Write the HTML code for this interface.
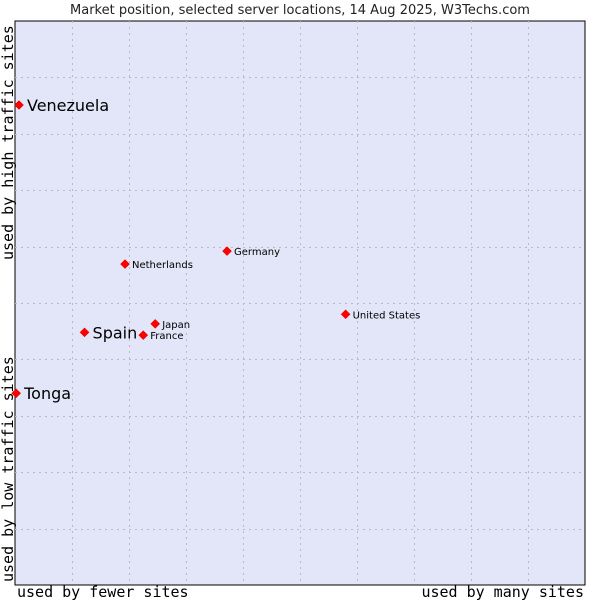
<!DOCTYPE html>
<html><head><meta charset="utf-8"><style>
body{margin:0;background:#fff}
svg text{font-family:"DejaVu Sans","Liberation Sans",sans-serif}
.mono{font-family:"DejaVu Sans Mono","Liberation Mono",monospace}
</style></head><body>
<svg id="chart" width="600" height="600">
<text x="300" y="14" text-anchor="middle" font-size="13" fill="#222">Market position, selected server locations, 14 Aug 2025, W3Techs.com</text>
<rect x="15" y="21" width="570" height="564" fill="#e3e5f8" stroke="#000" stroke-width="1"/>
<g id="grid"></g>
<g id="points"></g>
<text class="mono" x="17" y="597" font-size="15" fill="#000">used by fewer sites</text>
<text class="mono" x="584" y="597" text-anchor="end" font-size="15" fill="#000">used by many sites</text>
<text class="mono" transform="translate(13,582) rotate(-90)" font-size="15" fill="#000">used by low traffic sites</text>
<text class="mono" transform="translate(13,260) rotate(-90)" font-size="15" fill="#000">used by high traffic sites</text>
</svg>
<script>
const countries=["Venezuela","Tonga","Spain","Netherlands","Germany","Japan","France","United States"];
const xVals=[0.7,0.2,12.2,19.3,37.2,24.6,22.5,58.0];
const yVals=[85.1,34.0,44.8,56.9,59.2,46.3,44.3,48.0];
const big=[1,1,1,0,0,0,0,0];
const X0=15,X1=585,Y0=585,Y1=21;
const sx=v=>X0+v/100*(X1-X0);
const sy=v=>Y0-v/100*(Y0-Y1);
const NS="http://www.w3.org/2000/svg";
const grid=document.getElementById('grid');
for(let i=1;i<10;i++){
 const l=document.createElementNS(NS,'line');
 
 
 const x=Math.round(sx(i*10))+0.5;
 l.setAttribute('x1',x);l.setAttribute('x2',x);l.setAttribute('y1',Y1);l.setAttribute('y2',Y0);
 l.setAttribute('stroke','#bbb');l.setAttribute('stroke-dasharray','2,4');
 grid.appendChild(l);
 const h=document.createElementNS(NS,'line');
 
 
 const y=Math.round(sy(i*10))+0.5;
 h.setAttribute('x1',X0);h.setAttribute('x2',X1);h.setAttribute('y1',y);h.setAttribute('y2',y);
 h.setAttribute('stroke','#bbb');h.setAttribute('stroke-dasharray','2,4');
 grid.appendChild(h);
}
const pts=document.getElementById('points');
countries.forEach((c,i)=>{
 const x=sx(xVals[i]),y=sy(yVals[i]);
 const p=document.createElementNS(NS,'path');
 
 
 p.setAttribute('d',`M${x-4.5},${y} L${x},${y-4.5} L${x+4.5},${y} L${x},${y+4.5} Z`);
 p.setAttribute('fill','#f00');p.setAttribute('stroke','#c00');p.setAttribute('stroke-width','0.5');
 pts.appendChild(p);
 const t=document.createElementNS(NS,'text');
 
 
 t.setAttribute('x',x+(big[i]?8:7));
 t.setAttribute('y',y+(big[i]?6:4));
 t.setAttribute('font-size',big[i]?'16':'10');
 t.setAttribute('fill','#000');
 t.textContent=c;
 pts.appendChild(t);
});
</script>
</body></html>
